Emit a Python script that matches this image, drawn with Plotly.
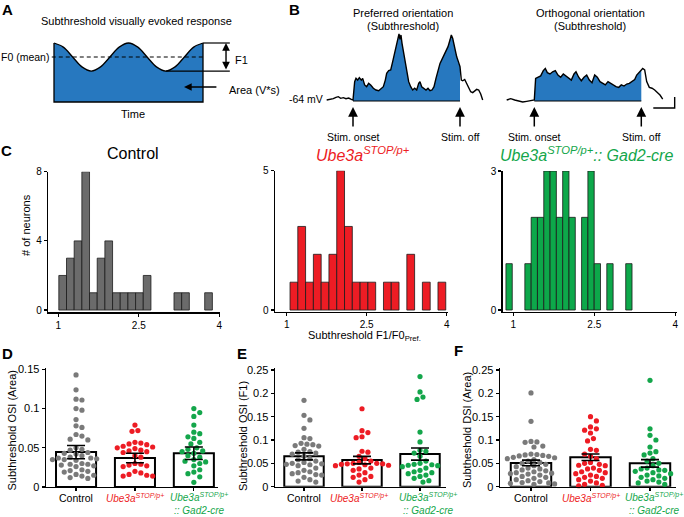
import plotly.graph_objects as go

W, H = 684, 517
FONT = "Liberation Sans, Arial, Helvetica, sans-serif"
BLUE = "#2778BF"
GRAY_BAR = "#6B6B6B"
GRAY_DOT = "#7A7A7A"
RED = "#ED1C24"
GREEN = "#14A64B"

# ---------------- data ----------------
# Panel A: schematic response (time in cycles, normalised voltage)
schem_x = [0, 0.125, 0.25, 0.375, 0.5, 0.625, 0.75, 0.875, 1.0,
           1.125, 1.25, 1.375, 1.5, 1.625, 1.75, 1.875, 2.0]
schem_y = [1.0, 0.93, 0.7625, 0.595, 0.525, 0.595, 0.7625, 0.93, 1.0,
           0.93, 0.7625, 0.595, 0.525, 0.595, 0.7625, 0.93, 1.0]
schem_mean = 0.7625

# Panel B: membrane potential traces (s from stim onset, mV above -64 mV)
STIM_ON, STIM_OFF = 0.0, 2.5
pref_t = [-0.615, -0.537, -0.460, -0.397, -0.343, -0.288, -0.226, -0.164, -0.101, -0.039, 0.0,
          0.039, 0.070, 0.109, 0.148, 0.195, 0.226, 0.272, 0.319, 0.366, 0.413,
          0.475, 0.537, 0.600, 0.662, 0.709, 0.755, 0.787, 0.834, 0.881, 0.927,
          0.974, 1.012, 1.044, 1.075, 1.098, 1.121, 1.145, 1.176, 1.215, 1.254,
          1.301, 1.348, 1.395, 1.441, 1.488, 1.535, 1.565, 1.605, 1.659, 1.706,
          1.752, 1.799, 1.846, 1.893, 1.939, 1.986, 2.033, 2.079, 2.126, 2.173,
          2.220, 2.266, 2.297, 2.329, 2.360, 2.391, 2.423, 2.462, 2.5,
          2.531, 2.563, 2.610, 2.656, 2.703, 2.750, 2.797, 2.843, 2.890, 2.937, 2.984, 3.030]
pref_v = [0.45, 0.76, 1.06, 1.67, 1.97, 1.21, 1.52, 1.06, 1.36, 0.76, 0.45,
          8.8, 10.3, 9.5, 10.6, 9.5, 10.3, 7.3, 6.5, 8.0, 7.3,
          5.8, 5.0, 4.7, 5.8, 6.5, 9.5, 12.6, 13.8, 14.1, 17.9,
          21.7, 24.7, 28.5, 30.5, 28.0, 30.0, 26.2, 22.4, 17.9, 12.6,
          8.8, 6.5, 5.0, 5.8, 5.0, 8.0, 8.8, 6.5, 5.8, 5.0,
          5.8, 4.7, 5.0, 6.5, 10.3, 14.1, 17.1, 18.9, 20.9, 22.4,
          24.7, 27.7, 30.0, 28.5, 25.5, 22.4, 20.1, 17.9, 15.6,
          9.5, 9.2, 9.8, 8.0, 5.8, 4.2, 3.8, 4.7, 5.3, 5.0, 3.2, 0.45]
orth_t = [-0.645, -0.551, -0.458, -0.364, -0.271, -0.178, -0.084, 0.0,
          0.031, 0.093, 0.149, 0.210, 0.257, 0.304, 0.366, 0.429, 0.491, 0.553,
          0.616, 0.678, 0.741, 0.803, 0.865, 0.928, 0.974, 1.037, 1.099, 1.161,
          1.224, 1.285, 1.348, 1.411, 1.472, 1.535, 1.598, 1.659, 1.722, 1.785,
          1.846, 1.909, 1.972, 2.033, 2.096, 2.159, 2.220, 2.283, 2.346, 2.393,
          2.439, 2.5,
          2.533, 2.579, 2.626, 2.687, 2.750, 2.813, 2.874, 2.937, 3.000]
orth_v = [0.45, 1.06, 0.45, -0.15, -0.45, -0.15, 0.15, 0.45,
          10.3, 10.8, 11.4, 13.8, 14.8, 12.9, 12.3, 13.3, 13.8, 11.8,
          10.8, 12.3, 11.4, 10.8, 9.5, 12.3, 13.3, 10.8, 9.2, 10.8,
          11.8, 9.5, 8.3, 11.8, 10.8, 8.8, 8.0, 7.3, 8.8, 8.0,
          7.1, 6.5, 6.2, 7.3, 6.8, 7.7, 8.0, 8.8, 9.8, 11.8,
          12.9, 14.1,
          14.8, 14.1, 8.8, 6.2, 5.8, 5.0, 3.8, 2.7, 0.9]
SCALE_S, SCALE_MV = 0.5, 5.0
SCALE_T_END, SCALE_V_BOTTOM = 3.28, -3.2

# Panel C: histograms of F1/F0 (counts per bin)
ctrl_counts = [2, 3, 4, 8, 1, 3, 4, 1, 1, 1, 1, 2, 0, 0, 0, 1, 1, 0, 0, 1]
ctrl_bin_start, ctrl_bin_w = 1.01, 0.143
red_counts = [1, 3, 1, 2, 1, 2, 5, 3, 1, 1, 1, 0, 1, 1, 0, 2, 0, 1, 0, 1]
red_bin_start, red_bin_w = 1.0625, 0.146
grn_counts = [1, 0, 0, 1, 2, 2, 3, 3, 2, 3, 2, 0, 2, 3, 1, 0, 1, 0, 0, 1]
grn_bin_start, grn_bin_w = 0.864, 0.1167

# Panels D-F: individual cells, means and SEM
D_ctrl = [0.143, 0.124, 0.112, 0.111, 0.100, 0.098, 0.086, 0.078, 0.076, 0.067, 0.065, 0.061,
          0.060, 0.050, 0.048, 0.047, 0.044, 0.043, 0.042, 0.040, 0.038, 0.037, 0.037, 0.036,
          0.035, 0.035, 0.034, 0.030, 0.029, 0.029, 0.028, 0.027, 0.026, 0.022, 0.021, 0.020,
          0.019, 0.016, 0.015, 0.014, 0.012, 0.011]
D_red = [0.079, 0.072, 0.071, 0.057, 0.056, 0.055, 0.054, 0.052, 0.051, 0.050, 0.049, 0.047,
         0.046, 0.045, 0.044, 0.040, 0.038, 0.030, 0.029, 0.028, 0.027, 0.026, 0.020, 0.018,
         0.016, 0.015, 0.014, 0.014]
D_grn = [0.100, 0.095, 0.090, 0.079, 0.070, 0.068, 0.064, 0.062, 0.057, 0.055, 0.050, 0.048,
         0.046, 0.045, 0.043, 0.040, 0.038, 0.035, 0.033, 0.032, 0.030, 0.027, 0.022, 0.019,
         0.017, 0.013, 0.006]
D_mean = [0.0445, 0.037, 0.043]
D_sem = [0.0085, 0.006, 0.008]

E_ctrl = [0.185, 0.153, 0.143, 0.125, 0.105, 0.103, 0.093, 0.091, 0.090, 0.088, 0.087, 0.080,
          0.075, 0.074, 0.072, 0.070, 0.065, 0.060, 0.058, 0.055, 0.052, 0.050, 0.049, 0.048,
          0.047, 0.045, 0.040, 0.035, 0.032, 0.030, 0.028, 0.026, 0.025, 0.020, 0.015, 0.012, 0.010]
E_red = [0.167, 0.120, 0.116, 0.107, 0.105, 0.076, 0.074, 0.065, 0.060, 0.055, 0.052, 0.050,
         0.050, 0.049, 0.049, 0.048, 0.047, 0.046, 0.045, 0.040, 0.038, 0.035, 0.030, 0.025,
         0.022, 0.020, 0.015, 0.010]
E_grn = [0.236, 0.203, 0.192, 0.187, 0.117, 0.096, 0.078, 0.076, 0.072, 0.065, 0.055, 0.050,
         0.048, 0.047, 0.046, 0.045, 0.043, 0.040, 0.035, 0.032, 0.030, 0.028, 0.025, 0.022,
         0.018, 0.013, 0.010]
E_mean = [0.065, 0.057, 0.070]
E_sem = [0.0075, 0.008, 0.013]

F_ctrl = [0.201, 0.140, 0.097, 0.096, 0.095, 0.087, 0.085, 0.070, 0.069, 0.068, 0.067, 0.066,
          0.065, 0.063, 0.062, 0.060, 0.058, 0.055, 0.052, 0.050, 0.048, 0.045, 0.043, 0.040,
          0.038, 0.036, 0.034, 0.032, 0.030, 0.029, 0.028, 0.027, 0.025, 0.022, 0.020, 0.018,
          0.015, 0.013, 0.011, 0.009, 0.008, 0.007, 0.006, 0.005]
F_red = [0.150, 0.141, 0.128, 0.124, 0.121, 0.115, 0.103, 0.098, 0.080, 0.078, 0.070, 0.065,
         0.060, 0.052, 0.050, 0.048, 0.046, 0.045, 0.040, 0.038, 0.035, 0.032, 0.030, 0.028,
         0.025, 0.022, 0.020, 0.018, 0.015, 0.012, 0.008, 0.005, 0.003, 0.002]
F_grn = [0.228, 0.124, 0.110, 0.100, 0.085, 0.075, 0.072, 0.068, 0.060, 0.055, 0.050, 0.045,
         0.040, 0.038, 0.036, 0.035, 0.033, 0.030, 0.028, 0.025, 0.023, 0.020, 0.018, 0.015,
         0.012, 0.010, 0.008, 0.005]
F_mean = [0.051, 0.063, 0.050]
F_sem = [0.006, 0.007, 0.008]

GROUP_COLORS = [GRAY_DOT, RED, GREEN]

# ---------------- helpers ----------------
def dx(a, b):
    return [a / W, b / W]


def dy(top, bottom):
    return [1 - bottom / H, 1 - top / H]


def px(x):
    return x / W


def py(y):
    return 1 - y / H


def beeswarm(values, ppv, ppc, d=5.9):
    placed = []
    res = [0.0] * len(values)
    order = sorted(range(len(values)), key=lambda i: -values[i])
    cands = [0.0]
    for k in range(1, 40):
        cands += [k * d / 2, -k * d / 2]
    for i in order:
        yv = values[i] * ppv
        chosen = cands[-1]
        for c in cands:
            if all((c - a) ** 2 + (yv - b) ** 2 >= d * d for a, b in placed):
                chosen = c
                break
        placed.append((chosen, yv))
        res[i] = chosen / ppc
    return res


def note(x, y, text, xref="paper", yref="paper", size=11, color="black", xanchor="center",
         yanchor="middle", **kw):
    d = dict(x=x, y=y, xref=xref, yref=yref, text=text, showarrow=False, xanchor=xanchor,
             yanchor=yanchor, font=dict(size=size, color=color, family=FONT))
    d.update(kw)
    return d


def arrow(x, y, ax, ay, xref, yref, **kw):
    d = dict(x=x, y=y, ax=ax, ay=ay, xref=xref, yref=yref, axref=xref, ayref=yref, text="",
             showarrow=True, arrowhead=2, arrowsize=1.2, arrowwidth=1.4, arrowcolor="black")
    d.update(kw)
    return d


AXCOMMON = dict(showgrid=False, zeroline=False, fixedrange=True)


def vis_axis(domain, rng, tickvals, ticktext=None, size=11, labels=True):
    d = dict(AXCOMMON, domain=domain, range=rng, showline=True, linecolor="black",
             linewidth=1.4, ticks="outside", ticklen=3, tickwidth=1.2, tickcolor="black",
             tickvals=tickvals, showticklabels=labels,
             tickfont=dict(size=size, family=FONT, color="black"))
    if ticktext is not None:
        d["ticktext"] = ticktext
    return d


fig = go.Figure()
layout = dict(width=W, height=H, margin=dict(l=0, r=0, t=0, b=0, autoexpand=False),
              paper_bgcolor="white", plot_bgcolor="white", showlegend=False,
              font=dict(family=FONT, size=11, color="black"))
ann = []

# ---------------- Panel A ----------------
layout["xaxis"] = dict(AXCOMMON, domain=dx(0, 290), range=[-54 / 74.5, 236 / 74.5], visible=False, anchor="y")
layout["yaxis"] = dict(AXCOMMON, domain=dy(0, 130), range=[(102 - 130) / 59, 102 / 59], visible=False, anchor="x")
fig.add_trace(go.Scatter(x=schem_x, y=schem_y, mode="lines", fill="tozeroy", fillcolor=BLUE,
                         line=dict(color="black", width=1.3, shape="spline", smoothing=1.0),
                         xaxis="x", yaxis="y", hoverinfo="skip"))
fig.add_trace(go.Scatter(x=[schem_x[0], schem_x[0], schem_x[-1], schem_x[-1]],
                         y=[schem_y[0], 0, 0, schem_y[-1]], mode="lines",
                         line=dict(color="black", width=1.3), xaxis="x", yaxis="y", hoverinfo="skip"))
fig.add_trace(go.Scatter(x=[-0.03, schem_x[-1]], y=[schem_mean, schem_mean], mode="lines",
                         line=dict(color="black", width=1.2, dash="4px,3px"), xaxis="x", yaxis="y"))
fig.add_trace(go.Scatter(x=[2.0, 2.36, None, 1.5, 2.36], y=[1.0, 1.0, None, 0.525, 0.525],
                         mode="lines", line=dict(color="black", width=1.2), xaxis="x", yaxis="y"))
ann.append(arrow(2.309, 1.0, 2.309, 0.525, "x", "y", arrowside="end+start", arrowsize=1.1))
ann.append(arrow(1.745, 0.254, 2.20, 0.254, "x", "y", arrowsize=1.1))
ann.append(note(-0.04, schem_mean, "F0 (mean)", "x", "y", size=10.5, xanchor="right"))
ann.append(note(2.40, 0.712, "F1", "x", "y", xanchor="left"))
ann.append(note(2.32, 0.203, "Area (V*s)", "x", "y", xanchor="left"))
ann.append(note(1.06, -0.203, "Time", "x", "y"))
ann.append(note(px(136), py(21), "Subthreshold visually evoked response"))

# ---------------- Panel B ----------------
B_YRANGE = [(101 - 145) / 2.2, (101 - 28) / 2.2]
layout["xaxis2"] = dict(AXCOMMON, domain=dx(320, 495), range=[(320 - 353) / 42.8, (495 - 353) / 42.8],
                        visible=False, anchor="y2")
layout["yaxis2"] = dict(AXCOMMON, domain=dy(28, 145), range=B_YRANGE, visible=False, anchor="x2")
layout["xaxis3"] = dict(AXCOMMON, domain=dx(498, 684), range=[(498 - 534.3) / 42.8, (684 - 534.3) / 42.8],
                        visible=False, anchor="y3")
layout["yaxis3"] = dict(AXCOMMON, domain=dy(28, 145), range=B_YRANGE, visible=False, anchor="x3")

for (tt, vv, xa, ya) in [(pref_t, pref_v, "x2", "y2"), (orth_t, orth_v, "x3", "y3")]:
    seg = [(t, v) for t, v in zip(tt, vv) if STIM_ON <= t <= STIM_OFF]
    fig.add_trace(go.Scatter(x=[s[0] for s in seg], y=[s[1] for s in seg], mode="lines",
                             fill="tozeroy", fillcolor=BLUE, line=dict(width=0, color=BLUE),
                             xaxis=xa, yaxis=ya, hoverinfo="skip"))
    fig.add_trace(go.Scatter(x=[STIM_ON, STIM_OFF], y=[0, 0], mode="lines",
                             line=dict(color="black", width=1.2), xaxis=xa, yaxis=ya))
    fig.add_trace(go.Scatter(x=tt, y=vv, mode="lines", line=dict(color="black", width=1.4),
                             xaxis=xa, yaxis=ya, hoverinfo="skip"))
    for tpos, lab in [(STIM_ON, "Stim. onset"), (STIM_OFF, "Stim. off")]:
        ann.append(arrow(tpos, -2.7, tpos, -12.3, xa, ya, arrowsize=1.3, arrowwidth=1.5))
        ann.append(note(tpos, -16.4, lab, xa, ya, size=10.5))

# scale bar
fig.add_trace(go.Scatter(x=[SCALE_T_END - SCALE_S, SCALE_T_END, SCALE_T_END],
                         y=[SCALE_V_BOTTOM, SCALE_V_BOTTOM, SCALE_V_BOTTOM + SCALE_MV],
                         mode="lines", line=dict(color="black", width=1.4), xaxis="x3", yaxis="y3"))
ann.append(note((325 - 353) / 42.8, 0.9, "-64 mV", "x2", "y2", size=10.5, xanchor="right"))
for cx, l1 in [(403, "Preferred orientation"), (590, "Orthogonal orientation")]:
    ann.append(note(px(cx), py(13), l1))
    ann.append(note(px(cx), py(25.5), "(Subthreshold)"))

# ---------------- Panel C ----------------
hist_specs = [
    (ctrl_counts, ctrl_bin_start, ctrl_bin_w, GRAY_BAR, "4", dx(48.3, 220), [0.814, 4.012],
     dy(171.7, 312.3), [-0.13, 8], [0, 4, 8]),
    (red_counts, red_bin_start, red_bin_w, RED, "5", dx(275, 448.3), [0.781, 4.03],
     dy(170.7, 312), [-0.07, 5], [0, 5]),
    (grn_counts, grn_bin_start, grn_bin_w, "#0DA84A", "6", dx(502.7, 676.7), [0.804, 4.025],
     dy(171, 312), [-0.043, 3], [0, 3]),
]
for counts, start, bw, col, n, dmx, rx, dmy, ry, yt in hist_specs:
    xs = [start + bw * (i + 0.5) for i, c in enumerate(counts) if c > 0]
    ys = [c for c in counts if c > 0]
    fig.add_trace(go.Bar(x=xs, y=ys, width=bw, marker=dict(color=col, line=dict(color="#1a1a1a", width=0.8)),
                         xaxis="x" + n, yaxis="y" + n, hoverinfo="skip"))
    layout["xaxis" + n] = vis_axis(dmx, rx, [1, 2.5, 4], ["1", "2.5", "4"], size=10)
    layout["xaxis" + n]["anchor"] = "y" + n
    layout["yaxis" + n] = vis_axis(dmy, ry, yt, size=10)
    layout["yaxis" + n]["anchor"] = "x" + n

ann.append(note(px(133), py(153), "Control", size=16))
ann.append(note(px(363), py(154), "<i>Ube3a<sup>STOP/p+</sup></i>", size=16, color=RED))
ann.append(note(px(586), py(154), "<i>Ube3a<sup>STOP/p+</sup>:: Gad2-cre</i>", size=16, color=GREEN))
ann.append(note(px(26), py(225), "# of neurons", textangle=-90))
ann.append(note(px(364), py(336), "Subthreshold F1/F0<sub>Pref.</sub>"))

# ---------------- Panels D, E, F ----------------
dot_specs = [
    ("7", dx(46, 218), [-0.51, 2.41], dy(368, 487), [0, 0.1518], [0, 0.05, 0.1, 0.15],
     ["0", "0.05", "0.1", "0.15"], [D_ctrl, D_red, D_grn], D_mean, D_sem,
     "Subthreshold OSI (Area)", 11.5, 431, 1.0, 2.08),
    ("8", dx(275, 446), [-0.5, 2.448], dy(368, 486.7), [0, 0.2543], [0, 0.05, 0.1, 0.15, 0.2, 0.25],
     ["0", "0.05", "0.1", "0.15", "0.2", "0.25"], [E_ctrl, E_red, E_grn], E_mean, E_sem,
     "Subthreshold OSI (F1)", 243, 436, 0.95, 2.13),
    ("9", dx(500, 676), [-0.521, 2.437], dy(368, 486.7), [0, 0.2543], [0, 0.05, 0.1, 0.15, 0.2, 0.25],
     ["0", "0.05", "0.1", "0.15", "0.2", "0.25"], [F_ctrl, F_red, F_grn], F_mean, F_sem,
     "Subtheshold DSI (Area)", 467, 430, 1.0, 2.07),
]
for n, dmx, rx, dmy, ry, yt, ytt, groups, means, sems, title, tx, ty, rlx, glx in dot_specs:
    xa, ya = "x" + n, "y" + n
    layout["xaxis" + n] = vis_axis(dmx, rx, [0, 1, 2], labels=False)
    layout["xaxis" + n]["anchor"] = ya
    layout["yaxis" + n] = vis_axis(dmy, ry, yt, ytt, size=11)
    layout["yaxis" + n]["anchor"] = xa
    ppv = (dmy[1] - dmy[0]) * H / (ry[1] - ry[0])
    ppc = (dmx[1] - dmx[0]) * W / (rx[1] - rx[0])
    fig.add_trace(go.Bar(x=[0, 1, 2], y=means, width=0.68,
                         marker=dict(color="white", line=dict(color="black", width=2)),
                         xaxis=xa, yaxis=ya, hoverinfo="skip"))
    for gi, vals in enumerate(groups):
        offs = beeswarm(vals, ppv, ppc)
        fig.add_trace(go.Scatter(x=[gi + o for o in offs], y=vals, mode="markers",
                                 marker=dict(size=5.2, color=GROUP_COLORS[gi]), cliponaxis=False,
                                 xaxis=xa, yaxis=ya, hoverinfo="skip"))
    fig.add_trace(go.Scatter(x=[0, 1, 2], y=means, mode="markers",
                             marker=dict(size=1, color="rgba(0,0,0,0)"),
                             error_y=dict(type="data", array=sems, color="black", thickness=1.6, width=9),
                             xaxis=xa, yaxis=ya, hoverinfo="skip"))
    ann.append(note(0, py(498), "Control", xa, size=10.5))
    ann.append(note(rlx, py(498), "<i>Ube3a<sup>STOP/p+</sup></i>", xa, size=10, color=RED))
    ann.append(note(glx, py(497), "<i>Ube3a<sup>STOP/p+</sup></i>", xa, size=10, color=GREEN))
    ann.append(note(glx, py(510), "<i>:: Gad2-cre</i>", xa, size=10, color=GREEN))
    ann.append(note(px(tx), py(ty), title, textangle=-90))

# panel letters
for lab, lx, ly in [("A", 7, 9.5), ("B", 294, 10), ("C", 6, 151), ("D", 7, 353), ("E", 242, 353),
                    ("F", 458, 350)]:
    ann.append(note(px(lx), py(ly), "<b>%s</b>" % lab, size=15))

layout["annotations"] = ann
fig.update_layout(**layout)
fig.write_html("out.html", config={"displayModeBar": False, "staticPlot": True},
               post_script="document.body.style.margin='0';document.body.style.overflow='hidden';")
